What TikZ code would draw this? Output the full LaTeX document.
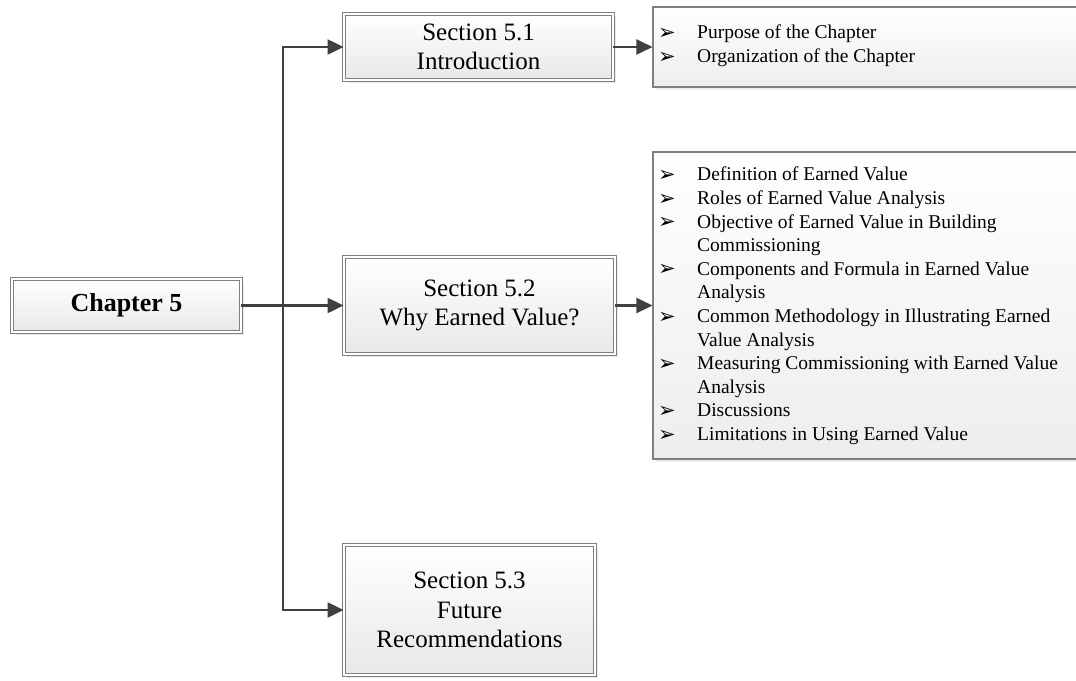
\documentclass[tikz,border=0pt]{standalone}
\usepackage{fontspec}
\setmainfont{Liberation Serif}
\newfontfamily\symfont{DejaVu Sans Bold}
\usetikzlibrary{arrows.meta,shadows}

% arrowhead bullet of the item lists
\newcommand{\itembul}{\makebox[39pt][l]{\raisebox{-0.5pt}{\symfont\fontsize{21}{21}\selectfont ➢}}}
\newcommand{\itemcont}{\hspace*{39pt}}

\begin{document}
\begin{tikzpicture}[x=1pt,y=-1pt,
  secbox/.style={draw=black!50, double=white, double distance=2.2pt, line width=0.9pt,
    top color=white, bottom color=black!9,
    drop shadow={shadow xshift=3pt, shadow yshift=-3pt, fill=black!16},
    align=center, inner sep=0pt, font=\fontsize{25}{29.5}\selectfont},
  listbox/.style={draw=black!50, line width=1.1pt, top color=white, bottom color=black!7,
    drop shadow={shadow xshift=2.5pt, shadow yshift=-2.5pt, fill=black!14},
    inner sep=0pt},
  listtext/.style={align=left, inner sep=0pt, anchor=north west,
    font=\fontsize{19.5}{23.6}\selectfont},
  arr/.style={draw=black!75, line width=2.3pt, -{Triangle[length=16pt,width=15pt]}}
]
\useasboundingbox (0,0) rectangle (1076,680);
\clip (0,0) rectangle (1076,680);

% chapter and section boxes
\node[secbox, minimum width=229pt, minimum height=53pt,
      font=\fontsize{26}{30}\selectfont\bfseries] (ch) at (126.5,305.5) {Chapter 5};
\node[secbox, minimum width=269pt, minimum height=66pt] (s1) at (478.5,47)
  {Section 5.1\\Introduction};
\node[secbox, minimum width=271pt, minimum height=97pt] (s2) at (479.5,305.5)
  {Section 5.2\\Why Earned Value?};
\node[secbox, minimum width=251pt, minimum height=130pt] (s3) at (469.5,610)
  {Section 5.3\\Future\\Recommendations};

% item list boxes (run past the right edge)
\node[listbox, minimum width=442pt, minimum height=80pt] (l1) at (874,47) {};
\node[listbox, minimum width=442pt, minimum height=307pt] (l2) at (874,305.5) {};

\node[listtext] (t1) at (658,25) {%
  \itembul Purpose of the Chapter\\
  \itembul Organization of the Chapter};

\node[listtext] (t2) at (658,167) {%
  \itembul Definition of Earned Value\\
  \itembul Roles of Earned Value Analysis\\
  \itembul Objective of Earned Value in Building\\
  \itemcont Commissioning\\
  \itembul Components and Formula in Earned Value\\
  \itemcont Analysis\\
  \itembul Common Methodology in Illustrating Earned\\
  \itemcont Value Analysis\\
  \itembul Measuring Commissioning with Earned Value\\
  \itemcont Analysis\\
  \itembul Discussions\\
  \itembul Limitations in Using Earned Value};

% connectors
\coordinate (j) at (283,305.5);
\draw[arr] (ch.east) -- (s2.west);
\draw[arr] (j) |- (s1.west);
\draw[arr] (j) |- (s3.west);
\draw[arr] (s1.east) -- (l1.west);
\draw[arr] (s2.east) -- (l2.west);
\end{tikzpicture}
\end{document}
